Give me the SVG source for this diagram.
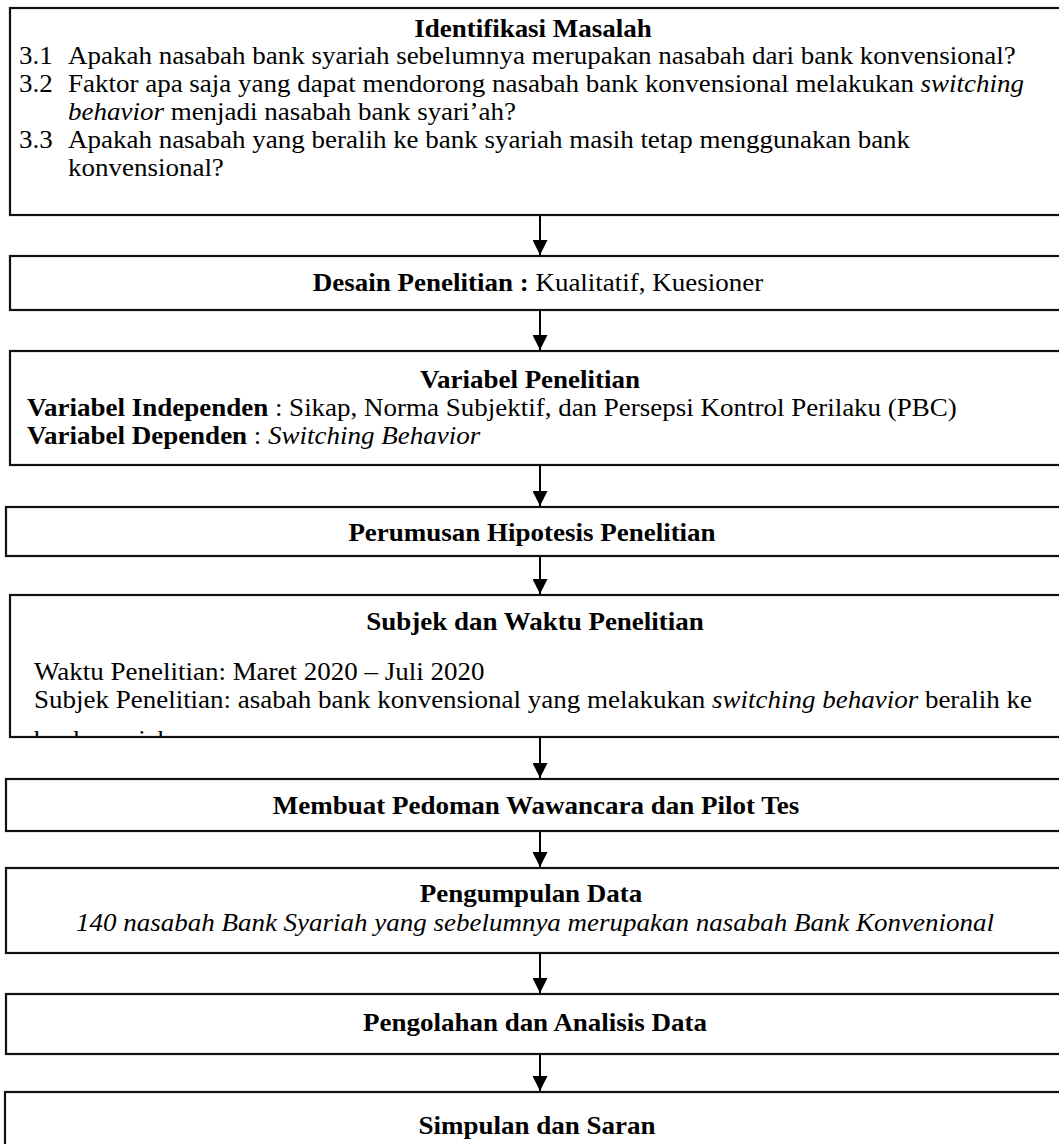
<svg xmlns="http://www.w3.org/2000/svg" width="1059" height="1144" viewBox="0 0 1059 1144">
<style>
.box{fill:#fff;stroke:#111;stroke-width:2.2}
.t{font-family:"Liberation Serif","Times New Roman",serif;font-size:25px;fill:#000}
.b{font-weight:bold}
.i{font-style:italic}
.c{text-anchor:middle}
.edge{stroke:#000;stroke-width:2;fill:none;marker-end:url(#arr)}
</style>
<defs>
<marker id="arr" markerUnits="userSpaceOnUse" markerWidth="15" markerHeight="15" viewBox="0 0 15 15" refX="15" refY="7.5" orient="auto">
<path d="M0,0 L15,7.5 L0,15 z" fill="#000"/>
</marker>
<clipPath id="clip5"><rect x="11" y="596" width="1060" height="140"/></clipPath>
</defs>
<g id="connectors">
<path class="edge" d="M540,215 V255"/>
<path class="edge" d="M540,310 V350"/>
<path class="edge" d="M540,465 V506"/>
<path class="edge" d="M540,556 V594"/>
<path class="edge" d="M540,737 V778"/>
<path class="edge" d="M540,831 V867"/>
<path class="edge" d="M540,953 V993"/>
<path class="edge" d="M540,1054 V1091"/>
</g>
<g id="n1">
<rect class="box" x="10" y="8" width="1080" height="207"/>
<text class="t b c" transform="translate(533 37) scale(1.08 1)">Identifikasi Masalah</text>
<text class="t" transform="translate(19 64) scale(1.08 1)">3.1</text>
<text class="t" transform="translate(68 64) scale(1.08 1)">Apakah nasabah bank syariah sebelumnya merupakan nasabah dari bank konvensional?</text>
<text class="t" transform="translate(19 92) scale(1.08 1)">3.2</text>
<text class="t" transform="translate(68 92) scale(1.08 1)">Faktor apa saja yang dapat mendorong nasabah bank konvensional melakukan <tspan class="i">switching</tspan></text>
<text class="t" transform="translate(68 120) scale(1.08 1)"><tspan class="i">behavior</tspan> menjadi nasabah bank syari’ah?</text>
<text class="t" transform="translate(19 148) scale(1.08 1)">3.3</text>
<text class="t" transform="translate(68 148) scale(1.08 1)">Apakah nasabah yang beralih ke bank syariah masih tetap menggunakan bank</text>
<text class="t" transform="translate(68 176) scale(1.08 1)">konvensional?</text>
</g>
<g id="n2">
<rect class="box" x="10" y="256" width="1080" height="54"/>
<text class="t c" transform="translate(538 291) scale(1.08 1)"><tspan class="b">Desain Penelitian :</tspan> Kualitatif, Kuesioner</text>
</g>
<g id="n3">
<rect class="box" x="10" y="351" width="1080" height="114"/>
<text class="t b c" transform="translate(530 388) scale(1.08 1)">Variabel Penelitian</text>
<text class="t" transform="translate(27 416) scale(1.08 1)"><tspan class="b">Variabel Independen</tspan> : Sikap, Norma Subjektif, dan Persepsi Kontrol Perilaku (PBC)</text>
<text class="t" transform="translate(27 444) scale(1.08 1)"><tspan class="b">Variabel Dependen</tspan> : <tspan class="i">Switching Behavior</tspan></text>
</g>
<g id="n4">
<rect class="box" x="6" y="507" width="1080" height="49"/>
<text class="t b c" transform="translate(532 541) scale(1.08 1)">Perumusan Hipotesis Penelitian</text>
</g>
<g id="n5">
<rect class="box" x="10" y="595" width="1080" height="142"/>
<text class="t b c" transform="translate(535 630) scale(1.08 1)">Subjek dan Waktu Penelitian</text>
<text class="t" transform="translate(34 680) scale(1.08 1)">Waktu Penelitian: Maret 2020 – Juli 2020</text>
<text class="t" transform="translate(34 708) scale(1.08 1)">Subjek Penelitian: asabah bank konvensional yang melakukan <tspan class="i">switching behavior</tspan> beralih ke</text>
<g clip-path="url(#clip5)">
<text class="t" transform="translate(34 748) scale(1.08 1)">bank syariah</text>
</g>
</g>
<g id="n6">
<rect class="box" x="6" y="779" width="1080" height="52"/>
<text class="t b c" transform="translate(536 814) scale(1.08 1)">Membuat Pedoman Wawancara dan Pilot Tes</text>
</g>
<g id="n7">
<rect class="box" x="6" y="868" width="1080" height="85"/>
<text class="t b c" transform="translate(531 902) scale(1.08 1)">Pengumpulan Data</text>
<text class="t i c" transform="translate(535 931) scale(1.08 1)">140 nasabah Bank Syariah yang sebelumnya merupakan nasabah Bank Konvenional</text>
</g>
<g id="n8">
<rect class="box" x="6" y="994" width="1080" height="60"/>
<text class="t b c" transform="translate(535 1031) scale(1.08 1)">Pengolahan dan Analisis Data</text>
</g>
<g id="n9">
<rect class="box" x="5" y="1092" width="1080" height="80"/>
<text class="t b c" transform="translate(537 1134) scale(1.08 1)">Simpulan dan Saran</text>
</g>
</svg>
